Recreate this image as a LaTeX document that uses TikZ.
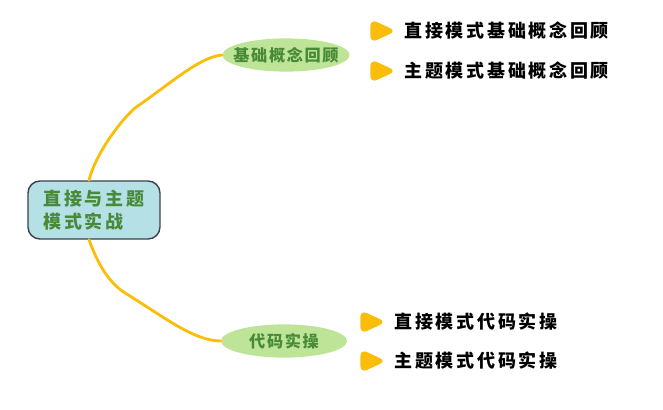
\documentclass[tikz,border=0pt]{standalone}
\usepackage{fontspec}
\usetikzlibrary{positioning, shapes.geometric}
\newfontfamily\cjk[LetterSpace=15]{Noto Sans CJK SC}
\newfontfamily\cjkbranch[LetterSpace=10]{Noto Sans CJK SC}
\definecolor{rootfill}{RGB}{180,224,230}
\definecolor{rootline}{RGB}{60,66,76}
\definecolor{leafgreen}{RGB}{190,228,152}
\definecolor{textgreen}{RGB}{72,138,56}
\definecolor{branchline}{RGB}{250,190,10}

\begin{document}
\begin{tikzpicture}[
        x=0.025cm, y=-0.025cm,
        rootbox/.style={rectangle, rounded corners=3mm, draw=rootline, line width=1pt,
                        fill=rootfill, minimum width=33mm, minimum height=14.5mm,
                        align=left, text=textgreen,
                        font=\cjk\bfseries\fontsize{12.8}{16.3}\selectfont},
        branch/.style={ellipse, fill=leafgreen, minimum width=31.5mm, minimum height=8.3mm,
                       inner xsep=-1.9mm, inner ysep=0, text=textgreen,
                       font=\cjkbranch\bfseries\fontsize{11.5}{14}\selectfont},
        bullet/.style={isosceles triangle, isosceles triangle stretches, fill=branchline,
                       rounded corners=1.8mm, minimum width=6mm, minimum height=6.5mm, inner sep=0},
        leaf/.style={inner sep=0, font=\cjk\bfseries\fontsize{12.8}{16.3}\selectfont},
        link/.style={draw=branchline, line width=2pt, line cap=round},
    ]
        \useasboundingbox (0,0) rectangle (663,409);

        % ===== 中心主题 =====
        \node[rootbox] (root) at (94,210) {直接与主题\\模式实战};

        % ===== 分支 =====
        \node[branch] (basics) at (286,55) {基础概念回顾};
        \node[branch] (coding) at (284,341) {代码实操};

        % 子项
        \node[bullet] (b1) at (378,31) {};
        \node[leaf, right=1.8mm of b1] (l1) {直接模式基础概念回顾};
        \node[bullet] (b2) at (378,71) {};
        \node[leaf, right=1.8mm of b2] (l2) {主题模式基础概念回顾};
        \node[bullet] (b3) at (368,322) {};
        \node[leaf, right=1.8mm of b3] (l3) {直接模式代码实操};
        \node[bullet] (b4) at (368,361) {};
        \node[leaf, right=1.8mm of b4] (l4) {主题模式代码实操};

        % 连线
        \draw[link] ([xshift=-1.25mm]root.north) .. controls (95,155) and (120,121) .. (135,108)
            .. controls (175,80) and (200,57) .. (basics.west);
        \draw[link] ([xshift=-1.25mm]root.south) .. controls (100,270) and (112,286) .. (130,296)
            .. controls (165,318) and (195,341) .. (coding.west);

    \end{tikzpicture}
\end{document}
